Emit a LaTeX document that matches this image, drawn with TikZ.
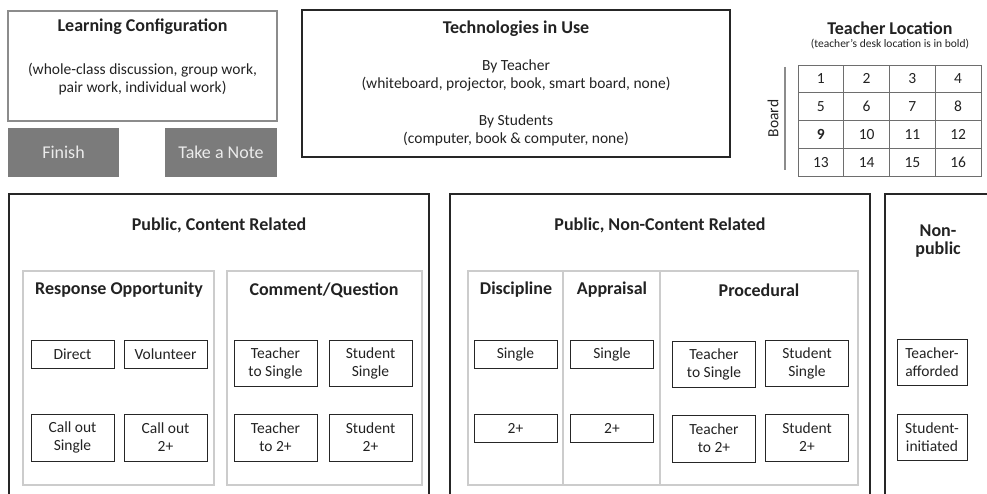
\documentclass[tikz,border=0pt]{standalone}
\usepackage{fontspec}
\setmainfont{Carlito}

\definecolor{frameGray}{HTML}{8C8C8C}
\definecolor{buttonGray}{HTML}{7B7B7B}
\definecolor{buttonText}{HTML}{EBEBEB}
\definecolor{panelGray}{HTML}{CCCCCC}
\definecolor{gridGray}{HTML}{6E6E6E}
\definecolor{inkGray}{HTML}{222222}

\tikzset{
  txt/.style={text=inkGray, font=\fontsize{15.5}{18}\selectfont, align=center, inner sep=0pt},
  head/.style={text=inkGray, font=\fontsize{18}{18}\selectfont\bfseries, align=center, inner sep=0pt},
  note/.style={text=inkGray, font=\fontsize{11.5}{13}\selectfont, inner sep=0pt},
  frame/.style={draw=frameGray, line width=2.5pt, inner sep=0pt},
  button/.style={fill=buttonGray, text=buttonText, font=\fontsize{18}{20}\selectfont, inner sep=0pt, minimum height=49pt},
  bigbox/.style={draw=black!85, line width=2.8pt, inner sep=0pt},
  panel/.style={draw=panelGray, line width=1.2pt, inner sep=0pt},
  code/.style={draw=black!85, line width=1pt, txt, minimum width=83pt},
  cell/.style={draw=gridGray, line width=0.8pt, txt, minimum width=45.75pt, minimum height=27.75pt}
}

\begin{document}
\begin{tikzpicture}[x=1pt,y=-1pt]

\useasboundingbox (0,0) rectangle (987,494);
\clip (0,0) rectangle (987,494);

\node[frame, minimum width=269pt, minimum height=110pt] (learn) at (142.5,66) {};
\node[head] (learn_title) at (142.5,27) {Learning Configuration};
\node[txt] (learn_text) at (142.5,79) {(whole-class discussion, group work,\\pair work, individual work)};

\node[button, minimum width=111pt] (finish) at (63.5,152.5) {Finish};
\node[button, minimum width=112pt] (note) at (221,152.5) {Take a Note};

\node[bigbox, minimum width=428pt, minimum height=147pt] (tech) at (516,83.5) {};
\node[head] (tech_title) at (516,29) {Technologies in Use};
\node[txt] (tech_teacher) at (516,75.5) {By Teacher\\(whiteboard, projector, book, smart board, none)};
\node[txt] (tech_students) at (516,130) {By Students\\(computer, book \& computer, none)};

\node[head] (loc_title) at (890,28) {Teacher Location};
\node[note] (loc_note) at (890,44) {(teacher’s desk location is in bold)};
\coordinate (board_top) at (785,67);
\coordinate (board_bot) at (785,170);
\draw[frameGray, line width=2.5pt] (board_top) -- (board_bot);
\node[txt, rotate=90] (board) at (773,118.5) {Board};

\node[cell] (c1) at (820.9,78.9) {1};
\node[cell] (c2) at (866.6,78.9) {2};
\node[cell] (c3) at (912.4,78.9) {3};
\node[cell] (c4) at (958.1,78.9) {4};
\node[cell] (c5) at (820.9,106.6) {5};
\node[cell] (c6) at (866.6,106.6) {6};
\node[cell] (c7) at (912.4,106.6) {7};
\node[cell] (c8) at (958.1,106.6) {8};
\node[cell] (c9) at (820.9,134.4) {\bfseries 9};
\node[cell] (c10) at (866.6,134.4) {10};
\node[cell] (c11) at (912.4,134.4) {11};
\node[cell] (c12) at (958.1,134.4) {12};
\node[cell] (c13) at (820.9,162.1) {13};
\node[cell] (c14) at (866.6,162.1) {14};
\node[cell] (c15) at (912.4,162.1) {15};
\node[cell] (c16) at (958.1,162.1) {16};

\node[bigbox, minimum width=420pt, minimum height=340pt] (pc) at (219,364) {};
\node[head] (pc_title) at (219,225) {Public, Content Related};
\node[panel, minimum width=191pt, minimum height=214pt] (resp) at (118.5,378) {};
\node[head] (resp_title) at (119,290) {Response Opportunity};
\node[panel, minimum width=195pt, minimum height=214pt] (cq) at (324.5,378) {};
\node[head] (cq_title) at (324,290) {Comment/Question};

\node[code, minimum height=28pt] (direct) at (72.5,354) {Direct};
\node[code, minimum height=28pt] (volunteer) at (165.5,354) {Volunteer};
\node[code, minimum height=47pt] (callout_single) at (72.5,437.5) {Call out\\Single};
\node[code, minimum height=47pt] (callout_many) at (165.5,437.5) {Call out\\2+};
\node[code, minimum height=46pt] (cq_teacher_single) at (275.5,363) {Teacher\\to Single};
\node[code, minimum height=46pt] (cq_student_single) at (370.5,363) {Student\\Single};
\node[code, minimum height=47pt] (cq_teacher_many) at (275.5,437.5) {Teacher\\to 2+};
\node[code, minimum height=47pt] (cq_student_many) at (370.5,437.5) {Student\\2+};

\node[bigbox, minimum width=420pt, minimum height=340pt] (pnc) at (660,364) {};
\node[head] (pnc_title) at (660,225) {Public, Non-Content Related};
\node[panel, minimum width=95pt, minimum height=214pt] (disc) at (515.5,378) {};
\node[head] (disc_title) at (516,290) {Discipline};
\node[panel, minimum width=97pt, minimum height=214pt] (appr) at (611.5,378) {};
\node[head] (appr_title) at (612,290) {Appraisal};
\node[panel, minimum width=198pt, minimum height=214pt] (proc) at (759,378) {};
\node[head] (proc_title) at (759,290) {Procedural};

\node[code, minimum height=28pt] (disc_single) at (515.5,354) {Single};
\node[code, minimum height=28pt] (disc_many) at (515.5,428) {2+};
\node[code, minimum height=28pt] (appr_single) at (612,354) {Single};
\node[code, minimum height=28pt] (appr_many) at (612,428) {2+};
\node[code, minimum height=46pt] (proc_teacher_single) at (714,364) {Teacher\\to Single};
\node[code, minimum height=46pt] (proc_student_single) at (807,363) {Student\\Single};
\node[code, minimum height=47pt] (proc_teacher_many) at (714,438.5) {Teacher\\to 2+};
\node[code, minimum height=47pt] (proc_student_many) at (807,437.5) {Student\\2+};

\node[bigbox, minimum width=300pt, minimum height=340pt] (np) at (1035,364) {};
\node[head] (np_title) at (938,241) {Non-\\public};
\node[code, minimum width=70pt, minimum height=46pt] (np_teacher) at (932,362) {Teacher-\\afforded};
\node[code, minimum width=70pt, minimum height=46pt] (np_student) at (932,437) {Student-\\initiated};

\end{tikzpicture}
\end{document}
